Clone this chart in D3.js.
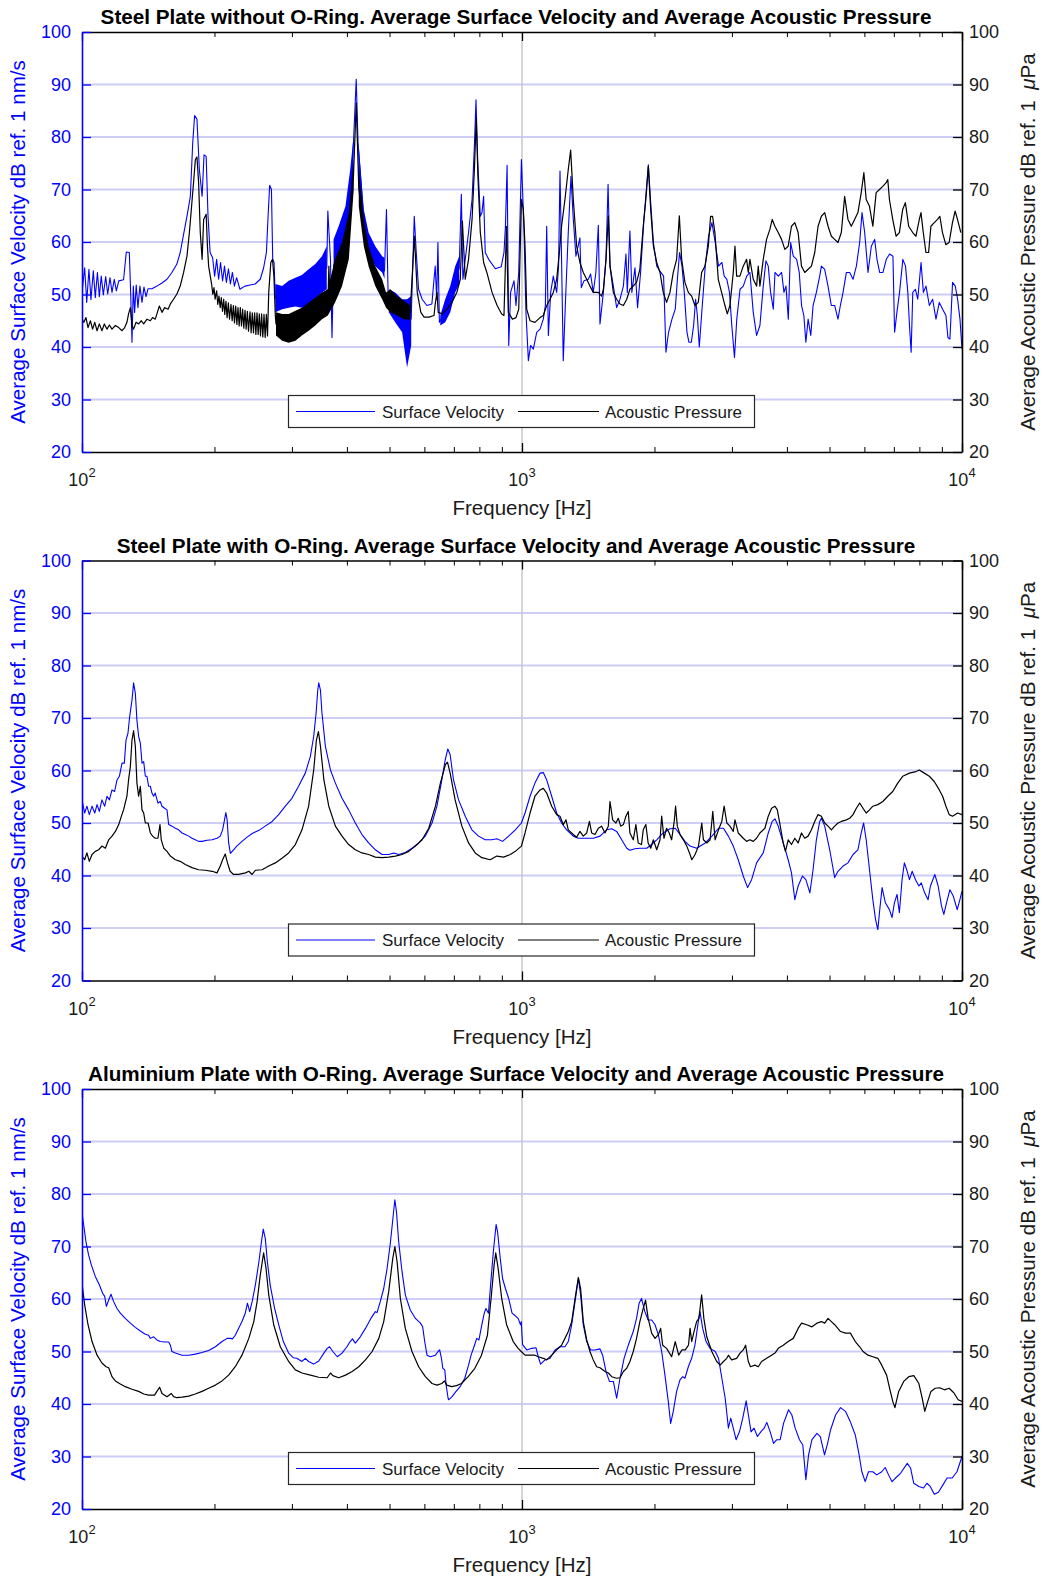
<!DOCTYPE html>
<html>
<head>
<meta charset="utf-8">
<script src="https://cdn.jsdelivr.net/npm/d3@7"></script>
<style>
body { margin: 0; background: #fff; }
svg { display: block; font-family: "Liberation Sans", Arial, Helvetica, sans-serif; }
</style>
</head>
<body>
<svg id="chart" width="1045" height="1579"></svg>
<script>
var titles = [
    "Steel Plate without O-Ring. Average Surface Velocity and Average Acoustic Pressure",
    "Steel Plate with O-Ring. Average Surface Velocity and Average Acoustic Pressure",
    "Aluminium Plate with O-Ring. Average Surface Velocity and Average Acoustic Pressure"
];
var dbTicks = [20, 30, 40, 50, 60, 70, 80, 90, 100];
var decadeTicks = [100, 1000, 10000];
var decadeExponents = ["2", "3", "4"];
var minorTicks = [200, 300, 400, 500, 600, 700, 800, 900, 2000, 3000, 4000, 5000, 6000, 7000, 8000, 9000];
var legendLabels = ["Surface Velocity", "Acoustic Pressure"];
var xLabel = "Frequency [Hz]";
var leftLabel = "Average Surface Velocity dB ref. 1 nm/s";

/* steel plate without o-ring: [Hz, dB] */
var p1Velocity = [
    [100,50.4],[101.4,55.1],[102.5,48.5],[103.7,54.8],[104.8,49.0],[106.1,54.5],[107.2,49.4],[108.4,54.2],[109.5,49.6],[110.6,53.5],
    [111.8,49.9],[113.2,53.4],[114.4,50.1],[115.8,53.2],[117,50.4],[118.4,52.9],[119.7,50.7],[121.2,52.6],[124.3,52.8],[126.1,58.1],
    [128.1,58.0],[129,50.4],[129.9,40.9],[130.8,51.6],[131.7,46.6],[132.8,51.8],[134,47.5],[135.4,51.6],[136.9,48.5],[138.3,51.4],
    [139.8,49.6],[141.3,51.1],[144.2,51.1],[148,51.6],[152,52.2],[156,52.9],[160.1,54.2],[164.3,55.8],[167.2,58.0],[170.2,61.5],
    [173.2,64.9],[176.3,68.7],[178.5,78.9],[180.3,84.1],[182.5,83.4],[184.8,73.8],[187.5,68.7],[189.4,76.6],[191.5,76.3],[193.4,64.9],
    [195.5,58.0],[198.1,57.0],[200.2,53.5],[202.3,56.7],[204.4,52.9],[206.5,56.1],[208.7,52.6],[210.8,55.4],[212.9,52.3],[215.2,54.9],
    [217.4,52.0],[219.7,54.2],[222,51.6],[224.6,53.2],[228.5,51.0],[234.6,51.6],[241,51.8],[247.5,52.0],[254.2,52.9],[258.7,55.1],
    [262.5,58.0],[264.8,64.9],[267,70.8],[269.5,70.0],[271.3,56.7],[273.2,56.1],
    [275,49.3],[285,49.4],[295,50.0],[305.5,50.4],[316,50.6],[327.5,51.3],[339,52.4],[351,53.8],[360,55.1],
    [362,65.9],[367,56.7],[370,41.8],[373,55.4],[383,58.9],[397,63.0],[407,69.0],
    [414,78.9],[420,91.0],[424,78.9],[437,64.0],[448,59.9],[464,57.3],[481,55.7],[487,54.5],[492,66.2],[496,51.0],
    [498,48.8],[515,47.5],[534,46.0],[548,43.0],[560,45.5],[569,64.9],[575,58.0],
    [582,51.0],[593,49.1],[608,47.9],[624,48.2],[631,52.9],[635,55.4],[640,49.1],[644,59.9],[649,44.7],
    [652,45.0],[669,46.9],[687,49.1],[705,52.9],[720,55.0],
    [728,69.1],[734,52.9],[743,56.7],[756,61.8],[770,68.1],[780,78.9],[786,87.1],[793,75.7],[804,64.9],[811,65.6],
    [818,68.7],[825,58.0],[840,56.7],[870,54.9],[897,55.3],[910,58.0],[917,63.0],[925,74.6],[933,40.3],[942,50.4],
    [959,52.6],[969,47.9],[983,54.2],[997,75.7],
    [1010,63.0],[1021,46.6],[1034,37.4],[1046,40.3],[1061,39.6],[1080,42.8],[1099,43.4],[1118,45.3],[1130,47.9],[1138,63.0],
    [1148,42.2],[1162,50.4],[1178,53.5],[1199,50.4],[1211,55.4],[1220,73.5],[1230,56.7],[1241,37.4],[1256,49.1],[1274,61.8],
    [1292,72.5],[1308,64.3],[1326,57.3],[1354,60.8],[1364,51.3],[1383,52.6],[1415,52.9],[1432,53.9],[1452,50.4],[1472,54.2],
    [1491,63.2],[1504,44.4],[1531,50.4],[1552,56.7],[1569,71.0],[1585,55.4],[1613,51.6],[1641,47.5],[1670,49.1],[1700,51.6],
    [1723,57.7],[1735,50.4],[1759,62.1],[1777,50.4],[1806,55.1],[1831,47.5],[1860,54.2],[1893,64.3],[1937,74.7],[1961,67.5],
    [1989,59.9],[2024,55.4],[2068,54.2],[2098,53.5],[2124,39.0],[2153,42.8],[2192,45.3],[2230,47.2],[2258,53.5],[2281,58.0],
    [2310,55.4],[2338,50.4],[2371,42.8],[2396,40.9],[2426,40.9],[2455,44.1],[2481,49.1],[2503,46.0],[2529,40.0],[2565,47.2],
    [2609,55.4],[2655,61.1],[2702,63.7],[2749,59.9],[2797,55.4],[2846,56.1],[2881,53.5],[2921,52.9],[2962,50.4],[2998,44.1],
    [3040,38.0],[3077,45.3],[3130,51.0],[3184,51.6],[3240,53.5],[3296,54.2],[3354,46.6],[3413,42.2],[3473,44.1],[3534,51.6],
    [3584,56.4],[3628,55.4],[3673,50.4],[3725,47.2],[3758,54.2],[3824,53.5],[3891,54.2],[3939,50.4],[3981,51.6],[4030,45.3],
    [4079,59.9],[4136,57.3],[4209,56.7],[4267,54.2],[4319,47.9],[4371,46.0],[4417,40.9],[4470,45.3],[4532,42.2],[4587,47.9],
    [4667,50.4],[4749,53.5],[4791,55.4],[4874,54.8],[4960,51.6],[5047,47.9],[5136,47.9],[5226,45.3],[5291,47.9],[5366,50.4],
    [5460,54.2],[5556,54.2],[5654,52.9],[5753,55.4],[5854,59.9],[5926,65.6],[6009,61.8],[6115,54.2],[6222,59.2],[6331,60.5],
    [6409,56.7],[6499,54.2],[6613,54.2],[6729,56.7],[6847,57.7],[6967,57.3],[7028,42.8],[7113,46.6],[7212,50.4],[7338,56.7],
    [7441,55.4],[7531,50.4],[7597,44.1],[7663,39.0],[7729,50.4],[7837,51.0],[7932,49.1],[8071,56.1],[8170,50.4],[8283,51.6],
    [8429,47.9],[8576,49.1],[8727,45.3],[8880,48.5],[9036,47.2],[9194,46.0],[9290,41.8],[9388,41.5],[9518,52.3],[9655,51.6],
    [9773,49.1],[9895,45.3],[10000,39.6]
];
/* ranges where the velocity trace oscillates too fast to resolve: [Hz, low dB, high dB] */
var p1VelocityBands = [
    [[275,46.6,52.0],[285,47.2,51.6],[295,47.5,52.6],[305.5,47.7,53.2],[316,47.5,53.7],[327.5,47.8,54.8],[339,49.1,55.8],[351,50.4,57.3],[360,51.0,59.2]],
    [[373,54.2,60.5],[383,54.8,63.0],[397,59.2,66.8],[407,64.3,73.8],[414,70.0,80.0]],
    [[425,70.6,78.9],[437,61.8,66.2],[448,58.0,61.8],[464,55.4,59.2],[481,54.2,57.3],[487,53.0,57.0]],
    [[498,46.6,51.0],[515,44.7,50.4],[534,42.8,49.1],[548,36.1,49.1],[560,40.3,49.7]],
    [[652,44.1,46.0],[669,44.7,49.1],[687,46.6,51.6],[705,50.4,55.4],[720,52.0,57.3]]
];
var p1Pressure = [
    [100,45.3],[101,44.7],[102.1,45.6],[103.2,43.7],[104.5,45.0],[105.7,43.4],[106.9,44.7],[108.2,43.1],[109.5,44.4],[111,43.1],
    [112.4,44.4],[114,43.4],[115.4,44.2],[117,43.4],[119.1,44.1],[121.2,43.7],[123.3,43.1],[125,43.7],[126.5,44.7],[127.6,46.3],
    [128.8,47.5],[129.9,44.1],[131,43.4],[132.7,44.7],[134.5,44.4],[136.4,45.0],[138.1,44.4],[140.5,45.3],[143,45.0],[144.7,45.6],
    [146.7,45.3],[148,46.3],[149.9,47.8],[152,46.6],[154.1,47.5],[156.9,47.2],[158.8,48.2],[161.5,49.1],[164.3,50.1],[167.2,51.6],
    [170.2,54.2],[173.2,57.3],[175.4,61.8],[177.2,66.2],[179.5,71.9],[181,75.7],[182.5,76.2],[184.1,71.3],[185.7,61.8],[187.5,56.7],
    [189,64.3],[191.5,65.3],[192.8,59.2],[194,55.4],
    [197.1,51.9],[198.3,50.0],[199.5,51.3],[200.7,49.1],[202.3,50.7],[203.5,48.1],[204.8,49.7],[206.1,47.5],[207.3,49.4],[208.6,46.8],
    [209.9,49.1],[211.1,46.2],[212.4,48.7],[213.7,45.6],[215.1,48.4],[216.4,45.3],[218.1,48.1],[219.4,45.0],[220.8,47.9],[222.1,44.6],
    [223.5,47.8],[224.9,44.3],[226.2,47.5],[227.6,44.0],[229,47.5],[230.4,44.0],[231.8,47.2],[233.2,43.6],[234.7,47.0],[236.1,43.4],
    [237.6,46.8],[239,43.0],[240.9,46.7],[242.3,42.7],[243.8,46.5],[245.3,42.7],[246.8,46.5],[248.4,42.4],[249.9,46.5],[251.4,42.4],
    [252.9,46.3],[254.5,42.1],[256,46.3],[257.6,41.9],[259.2,46.2],[260.8,41.8],[262.4,46.2],[264,42.1],
    [265.7,50.4],[268.6,56.1],[271,56.7],[273,53.5],[275,46.0],
    [276,44.4],[285,43.8],[295,43.6],[305.5,44.1],[316,44.9],[327.5,45.8],[339,46.8],[351,47.9],[362,48.5],[364,55.4],
    [366,49.5],[376,52.6],[390,55.8],[404,61.2],[414,72.6],[420,86.5],
    [425.6,70.3],[437,61.8],[448,57.3],[464,53.5],[481,51.0],[491,49.0],[502,48.8],[520,47.9],[539,47.1],[557,46.6],
    [569.5,61.1],[578,50.4],[589,46.6],[599,45.7],[615,45.7],[631,46.0],[635,48.2],[641,50.4],[645,46.6],[659,46.3],
    [675,47.2],[693,48.5],[711,50.4],[724,52.9],[732,64.0],[743,52.9],[756,56.7],[770,64.3],[780,74.4],[787,83.6],
    [794,72.5],[804,61.8],[818,56.1],[832,54.2],[855,50.4],[878,47.9],[899,46.3],[910,46.0],[922,63.0],[931,46.6],
    [951,45.3],[969,45.6],[983,47.2],[997,68.1],
    [1007,66.2],[1016,59.2],[1025,47.2],[1043,45.0],[1070,44.7],[1099,45.6],[1118,46.0],[1138,47.9],[1158,49.1],[1178,50.4],
    [1199,52.9],[1216,58.0],[1230,63.0],[1252,68.1],[1274,73.8],[1290,77.5],[1308,68.1],[1331,59.2],[1354,56.1],[1378,54.2],
    [1403,52.9],[1427,51.6],[1452,50.4],[1491,50.4],[1517,49.7],[1531,51.0],[1552,56.7],[1571,65.0],[1585,55.4],[1613,50.4],
    [1641,49.1],[1670,48.2],[1700,47.9],[1730,49.1],[1759,51.0],[1790,51.6],[1821,52.3],[1853,54.8],[1886,63.0],[1912,68.1],
    [1937,74.4],[1961,66.2],[1989,59.2],[2024,56.1],[2059,54.2],[2094,50.4],[2131,48.5],[2169,50.4],[2207,54.2],[2246,56.7],
    [2278,65.0],[2306,56.7],[2346,52.3],[2388,50.4],[2430,49.7],[2472,47.9],[2516,48.5],[2560,54.2],[2605,55.4],[2651,59.2],
    [2683,64.9],[2711,64.9],[2744,61.8],[2793,52.9],[2842,50.4],[2892,47.9],[2928,46.3],[2969,47.9],[3021,54.2],[3048,59.2],
    [3075,53.5],[3128,53.5],[3183,55.4],[3239,56.7],[3268,54.2],[3296,56.7],[3354,52.9],[3413,51.6],[3443,55.4],[3473,51.6],
    [3534,56.7],[3596,60.5],[3659,62.4],[3704,64.3],[3756,63.0],[3822,61.8],[3889,60.5],[3957,58.6],[4027,59.2],[4097,63.0],
    [4169,63.7],[4242,61.8],[4317,55.4],[4392,54.2],[4469,54.8],[4548,55.4],[4627,58.0],[4708,63.0],[4791,64.9],[4875,65.6],
    [4961,63.0],[5048,61.1],[5136,60.5],[5226,59.9],[5318,61.8],[5411,68.7],[5506,64.3],[5602,63.0],[5701,64.3],[5800,65.6],
    [5902,69.4],[5984,73.2],[6057,68.1],[6163,66.8],[6271,63.0],[6381,69.4],[6493,70.0],[6607,70.6],[6723,71.3],[6781,71.9],
    [6840,68.1],[6960,64.3],[7082,61.1],[7206,61.8],[7332,66.2],[7435,67.5],[7565,63.0],[7725,61.8],[7860,61.1],[7998,64.3],
    [8068,65.6],[8166,61.8],[8280,58.0],[8396,58.0],[8498,63.0],[8647,63.7],[8798,64.3],[8906,64.9],[9029,61.8],[9187,59.5],
    [9349,59.9],[9513,63.7],[9646,65.9],[9767,64.3],[9940,61.8]
];
var p1PressureBands = [
    [[276,42.2,46.6],[285,41.2,46.3],[295,40.8,46.3],[305.5,41.2,46.9],[316,42.2,47.5],[327.5,43.1,48.5],[339,44.1,49.4],[351,45.3,50.4],[362,46.0,51.0],[376,48.5,56.7],[390,51.6,59.9],[404,56.7,65.6],[414,69.4,75.7]],
    [[425.6,66.8,73.8],[437,59.2,64.3],[448,55.4,59.2],[464,51.6,55.4],[481,49.1,52.9],[491,47.5,50.4],[502,46.6,51.0],[520,46.0,49.7],[539,45.3,48.8],[557,45.2,47.9]]
];

/* steel plate with o-ring */
var p2Velocity = [
    [100,54.4],[101.4,51.9],[102.6,53.2],[103.9,51.6],[105.4,53.2],[106.9,51.9],[108.2,53.5],[109.5,52.2],[111,54.4],[112.6,53.2],
    [114,55.1],[115.4,54.4],[117,56.3],[118.6,56.0],[120.1,58.2],[121.6,58.9],[123.3,61.4],[124.8,61.4],[125.9,65.8],[127.2,67.1],
    [128.3,70.2],[129.9,73.4],[131,76.7],[132.2,74.7],[133.3,69.6],[134.5,66.5],[135.7,65.2],[136.9,61.4],[138.1,61.7],[139.3,58.9],
    [140.5,58.9],[141.7,57.0],[143,57.0],[144.2,55.7],[145.5,55.1],[146.7,55.7],[148.8,53.8],[150.6,54.1],[152,53.2],[154.1,52.8],
    [156,52.5],[157.4,49.7],[160.1,49.4],[163,49.0],[165.8,48.7],[168.8,48.1],[171.7,47.8],[174.8,47.5],[177.8,47.1],[180.9,46.8],
    [184.1,46.5],[187.4,46.5],[192.3,46.7],[197.6,46.8],[202.7,47.1],[206.2,47.5],[208.7,48.7],[210.5,50.3],[212.3,52.0],[213.7,50.6],
    [215.4,46.2],[217.4,44.2],[221,44.9],[224.8,45.6],[231,46.5],[237.3,47.3],[243.6,48.0],[252.4,48.6],[260.9,49.4],[270.5,50.3],
    [279.9,51.6],[289.8,53.2],[300,54.7],[310.6,57.0],[321.7,59.5],[330.4,62.7],[336.2,66.5],[340.4,70.9],[343.4,75.3],[345.2,76.7],
    [348.3,75.3],[351.1,70.9],[357.4,64.6],[367,60.1],[376.6,57.6],[389.9,54.7],[403.7,52.5],[418,50.0],[432.8,47.8],[448.2,46.2],
    [464.2,44.9],[480.7,44.0],[497.8,44.0],[511,44.3],[524.5,44.0],[543,44.4],[562.3,45.2],[582.3,46.2],[603,47.5],[624.5,50.0],
    [640.7,53.2],[657.4,58.2],[669,62.0],[678.3,64.1],[686.6,63.0],[698.8,58.2],[717.5,54.4],[743,51.3],[769.3,48.7],[796.6,47.5],
    [824.9,46.8],[854.1,46.8],[876.7,47.0],[903.3,46.5],[932.6,47.5],[965.6,48.7],[996.9,50.0],
    [1016,51.9],[1043,55.1],[1070,57.6],[1099,59.5],[1118,59.6],[1138,58.2],[1168,55.1],[1199,51.9],[1230,50.0],[1263,48.7],
    [1308,47.5],[1343,47.1],[1403,47.1],[1452,47.1],[1504,47.5],[1557,48.7],[1599,48.9],[1641,48.4],[1685,46.8],[1730,45.2],
    [1759,44.8],[1806,45.1],[1853,45.2],[1920,45.2],[1971,45.9],[2024,46.8],[2094,48.1],[2169,48.9],[2230,49.0],[2288,47.8],
    [2346,46.5],[2409,45.6],[2494,45.2],[2609,46.2],[2702,47.5],[2797,49.0],[2870,49.0],[2945,47.5],[3021,45.6],[3101,43.0],
    [3183,39.9],[3256,37.7],[3325,39.2],[3413,42.4],[3534,44.3],[3628,48.1],[3704,50.3],[3758,50.8],[3822,49.4],[3923,46.2],
    [4027,43.0],[4097,40.5],[4169,35.4],[4242,38.0],[4340,39.9],[4417,39.2],[4511,36.7],[4587,41.1],[4667,46.8],[4749,50.3],
    [4791,50.9],[4875,49.4],[5004,44.9],[5136,39.6],[5226,40.8],[5366,41.8],[5506,42.4],[5654,44.0],[5800,44.9],[5902,48.1],
    [5976,50.0],[6057,46.8],[6163,41.1],[6271,35.4],[6359,31.7],[6437,29.7],[6515,34.2],[6583,37.7],[6697,34.8],[6840,33.5],
    [6935,32.0],[7021,34.8],[7118,36.4],[7206,32.9],[7307,39.2],[7397,42.4],[7488,41.1],[7596,39.2],[7704,40.8],[7841,39.2],
    [7981,38.0],[8080,38.6],[8225,36.7],[8373,35.4],[8477,38.0],[8674,40.2],[8827,38.0],[8983,34.2],[9093,32.6],[9222,34.8],
    [9388,37.3],[9552,36.1],[9752,33.5],[9891,35.4],[10000,37.0]
];
var p2Pressure = [
    [100,43.7],[101.4,43.0],[102.6,44.3],[103.9,42.7],[105.4,44.0],[107.2,44.6],[109.1,44.9],[111,45.6],[113,45.2],[115,46.8],
    [117,47.5],[119.1,48.4],[121.2,49.7],[122.9,51.3],[124.3,52.5],[126.5,55.1],[127.6,58.2],[128.8,60.8],[129.9,65.8],[131,67.6],
    [132.2,64.6],[133.3,57.6],[134.5,55.1],[135.7,57.0],[136.9,52.5],[138.1,51.9],[139.3,50.0],[141.3,50.0],[143,48.1],[144.7,47.5],
    [146.7,47.1],[148.8,47.1],[150.4,49.7],[151.4,46.8],[153.4,45.2],[156,44.6],[158.8,43.7],[163,43.0],[167.2,42.7],[171.7,42.1],
    [177.8,41.5],[184.1,41.1],[190.6,41.0],[197.6,40.8],[202.7,40.5],[206.2,41.8],[208.7,43.0],[211.6,44.1],[214.1,42.4],[217.1,40.8],
    [221,40.2],[226.9,40.2],[235.2,40.5],[239.4,40.8],[243.6,40.2],[247.8,41.0],[256.6,41.1],[265.7,41.8],[275,42.4],[284.8,43.3],
    [294.9,44.3],[305.4,45.9],[316.2,48.7],[327.4,53.2],[336.2,60.1],[341,65.8],[344.6,67.4],[348.3,64.6],[354.6,58.2],[363.8,53.2],
    [376.6,49.4],[389.9,47.5],[403.7,45.9],[418,44.9],[432.8,44.3],[448.2,44.0],[464.2,43.5],[480.7,43.4],[497.8,43.5],[515.5,43.7],
    [533.8,44.0],[552.8,44.6],[572.5,45.6],[592.8,46.8],[613.9,49.0],[635.7,53.2],[652.4,57.6],[669.5,61.1],[677.1,61.6],[686.6,59.5],
    [704.7,54.4],[730,49.4],[756,46.2],[782.8,44.3],[810.5,43.4],[846.6,43.0],[876.7,43.7],[908.3,43.5],[940.8,44.0],[965.6,44.6],
    [996.9,45.6],
    [1016,48.1],[1043,51.9],[1070,55.1],[1099,56.3],[1118,56.6],[1138,55.7],[1168,53.2],[1199,51.6],[1220,51.3],[1241,49.7],
    [1259,50.6],[1274,48.7],[1308,47.8],[1331,47.3],[1354,48.4],[1378,47.5],[1403,48.1],[1423,50.3],[1440,48.1],[1465,47.8],
    [1491,49.0],[1517,49.4],[1544,48.1],[1571,49.4],[1585,54.1],[1607,50.6],[1635,50.0],[1655,50.9],[1676,49.4],[1700,49.7],
    [1723,51.3],[1744,52.2],[1759,48.1],[1790,46.8],[1815,49.7],[1837,46.2],[1869,45.9],[1886,48.7],[1912,49.7],[1935,46.2],
    [1961,45.2],[1989,46.8],[2024,44.9],[2059,46.8],[2077,51.3],[2102,47.1],[2131,49.0],[2161,48.1],[2188,46.8],[2218,50.3],
    [2234,53.2],[2254,49.4],[2286,47.8],[2327,46.8],[2369,45.6],[2402,44.3],[2432,43.0],[2474,44.0],[2518,45.6],[2562,50.0],
    [2584,46.8],[2630,46.2],[2676,46.8],[2714,52.2],[2747,46.8],[2796,48.7],[2845,50.3],[2880,53.2],[2921,50.0],[2969,49.4],
    [3021,48.4],[3048,50.6],[3101,48.1],[3183,47.1],[3239,46.5],[3296,46.8],[3354,46.5],[3413,47.1],[3473,48.1],[3565,49.0],
    [3628,51.3],[3692,52.8],[3758,53.2],[3804,52.5],[3858,49.7],[3923,46.2],[3970,44.6],[4027,46.8],[4097,45.9],[4169,47.1],
    [4242,46.2],[4317,48.1],[4392,47.1],[4469,47.5],[4548,48.7],[4627,50.3],[4708,51.6],[4791,51.3],[4875,50.0],[4961,49.4],
    [5048,48.7],[5136,49.4],[5226,50.0],[5318,50.3],[5460,50.6],[5556,50.9],[5654,51.6],[5753,52.8],[5854,53.8],[5957,52.8],
    [6057,51.9],[6163,52.5],[6271,53.2],[6437,53.5],[6607,54.1],[6781,55.1],[6960,56.0],[7144,57.6],[7332,58.9],[7597,59.5],
    [7860,59.8],[7998,60.1],[8210,59.5],[8429,58.9],[8647,57.9],[8880,56.3],[9036,55.1],[9194,53.2],[9354,51.6],[9518,51.3],
    [9773,51.9],[10000,51.6]
];

/* aluminium plate with o-ring */
var p3Velocity = [
    [100,76.3],[100.9,74.1],[102.1,70.9],[103.5,68.4],[105,66.5],[107.2,64.3],[109.5,62.7],[111.4,61.1],[112.6,60.5],[113.6,58.6],
    [115,59.8],[116.4,60.9],[118,59.5],[120.1,58.2],[122.2,57.3],[125.4,56.3],[128.8,55.4],[132.2,54.6],[135.7,53.9],[139.3,53.3],
    [141.7,53.1],[143,52.5],[145.5,52.8],[148,52.2],[150.6,51.9],[154.1,51.8],[157.4,51.8],[158.8,51.2],[160.1,50.0],[163,49.7],
    [168.8,49.3],[174.8,49.3],[180.9,49.5],[187.4,49.8],[194,50.2],[201,50.9],[208.1,51.9],[213.7,52.5],[217.4,52.5],[219.7,52.4],
    [223,53.1],[226.9,54.4],[231,55.7],[235,57.3],[237.7,59.2],[240.5,57.6],[243.6,59.5],[247.8,62.7],[252.4,67.1],[255.8,70.9],
    [258.2,73.3],[261,71.5],[263.8,67.1],[267.7,62.7],[274,58.2],[279.9,55.1],[286.8,51.9],[294.9,49.7],[302.3,48.8],[307.6,48.7],
    [316.2,48.1],[321.7,48.7],[327.4,48.1],[336.2,47.6],[345.2,48.2],[354.6,49.7],[360.8,50.6],[365.3,50.9],[371.6,50.0],[380.4,49.0],
    [389.9,49.7],[400,50.9],[406.9,51.9],[411.8,52.4],[418,51.6],[429,52.8],[440.8,54.4],[453.4,56.3],[464.2,57.6],[468.2,57.4],
    [476.3,59.5],[485,62.0],[493.6,65.8],[502.5,70.9],[509.8,76.0],[514.1,78.9],[518.5,76.6],[524.5,70.9],[533.8,65.2],[543,60.8],
    [557.3,57.9],[572.5,56.3],[587.6,55.4],[594.6,54.7],[601,51.9],[608.3,49.3],[618.9,49.0],[635.7,49.3],[644.6,50.0],[650,50.3],
    [656,48.7],[660.7,46.8],[667.6,46.5],[672.4,43.6],[679.3,41.1],[681.3,40.8],[693.6,41.4],[705.3,42.2],[723.3,43.3],[741.2,44.9],
    [756,47.4],[766,49.3],[779.9,51.2],[789,52.5],[798.3,52.2],[810.5,55.1],[820.9,57.3],[828,58.2],[839,57.3],[848.5,62.7],
    [860.7,69.0],[873.3,74.2],[880,72.8],[892.5,67.7],[903.3,63.9],[917,62.0],[932.6,60.1],[949.3,57.3],[965.6,56.8],[979.9,56.3],
    [992,55.1],[996,55.7],
    [1003,51.3],[1025,50.3],[1052,50.6],[1076,50.7],[1089,49.0],[1102,47.6],[1128,48.4],[1158,48.7],[1189,50.3],[1220,50.9],
    [1252,50.9],[1274,51.9],[1297,55.1],[1320,59.5],[1343,63.9],[1359,60.8],[1378,55.1],[1403,51.9],[1432,50.3],[1465,50.3],
    [1504,50.5],[1525,49.3],[1552,46.2],[1580,44.3],[1613,44.3],[1641,41.1],[1670,44.9],[1706,48.7],[1744,51.2],[1790,53.8],
    [1821,56.3],[1846,59.2],[1869,60.1],[1902,57.6],[1935,56.0],[1971,56.0],[2006,55.1],[2041,53.2],[2077,50.0],[2113,45.5],
    [2150,40.5],[2177,36.3],[2207,38.6],[2246,42.4],[2286,44.6],[2318,45.2],[2346,44.9],[2388,47.1],[2430,48.7],[2472,51.2],
    [2516,55.7],[2538,57.6],[2574,54.4],[2620,51.9],[2676,50.6],[2749,50.0],[2797,48.7],[2846,44.9],[2896,41.1],[2945,35.4],
    [2981,37.3],[3021,35.4],[3066,33.2],[3120,34.7],[3175,37.3],[3232,40.6],[3270,37.9],[3316,34.7],[3368,35.4],[3428,33.8],
    [3489,34.7],[3550,35.4],[3601,36.5],[3665,34.7],[3730,32.5],[3795,33.2],[3862,33.2],[3930,36.3],[4035,38.9],[4106,37.9],
    [4177,35.4],[4272,33.2],[4347,32.2],[4417,25.6],[4480,30.3],[4560,33.2],[4680,34.4],[4764,33.8],[4870,30.3],[4940,32.2],
    [5028,35.1],[5160,37.9],[5296,39.3],[5434,38.6],[5576,36.6],[5721,34.1],[5820,30.9],[5921,27.1],[6025,25.2],[6130,27.1],
    [6270,27.1],[6400,26.5],[6570,27.1],[6690,27.9],[6810,26.5],[6935,25.2],[7060,25.9],[7250,26.8],[7510,28.7],[7640,27.8],
    [7770,24.9],[7980,24.3],[8180,24.0],[8320,24.9],[8470,24.3],[8650,22.8],[8840,23.2],[9050,24.6],[9250,25.9],[9500,25.9],
    [9740,27.1],[10000,30.0]
];
var p3Pressure = [
    [100,63.0],[101.4,58.9],[103.2,55.1],[105.4,51.9],[108.2,49.3],[111,47.8],[113.4,47.1],[115,46.9],[117,45.2],[119.1,44.4],
    [122.2,43.8],[125.4,43.3],[129.9,42.8],[134.5,42.4],[138.1,41.9],[141.7,41.7],[146.2,41.7],[148,42.4],[150.1,43.2],[152,42.0],
    [156,41.4],[159.6,42.0],[161.5,41.4],[164.3,41.2],[168.8,41.3],[174.8,41.5],[180.9,41.9],[187.4,42.4],[194,43.0],[201,43.6],
    [208.1,44.4],[215.4,45.5],[223,47.1],[231,49.3],[239.4,52.5],[245.7,55.7],[250,59.5],[254.2,64.6],[258.7,68.8],[261.9,65.9],
    [265.7,60.8],[272.7,55.1],[282.3,50.9],[294.9,48.1],[305.4,46.5],[316.2,45.9],[330.4,45.5],[345.2,45.1],[360.8,45.0],[367,45.9],
    [371.6,45.4],[383.3,45.0],[397.1,45.5],[411.1,46.2],[425.6,47.1],[440.8,48.4],[456.4,50.0],[472.7,52.5],[485,55.7],[497.8,61.4],
    [508.4,67.7],[514.1,70.0],[520.2,67.1],[529.1,60.1],[543,54.4],[562.3,50.0],[582.3,47.1],[603,45.2],[624.5,43.9],[640.7,43.6],
    [657.4,43.9],[666.5,44.4],[674.6,43.6],[692.1,43.3],[710,43.5],[728.5,43.9],[754.4,45.2],[781.3,46.8],[809,49.3],[834.5,53.1],
    [852.2,60.8],[864.2,66.5],[871.6,68.8],[882.4,65.9],[899.2,60.1],[922.5,55.1],[955,51.9],[980,50.6],[996,50.0],
    [1016,49.3],[1043,49.3],[1070,49.3],[1089,49.0],[1118,48.7],[1138,48.4],[1168,49.3],[1199,50.3],[1230,51.2],[1252,52.5],
    [1274,53.8],[1297,55.7],[1320,60.1],[1343,64.1],[1359,62.0],[1378,55.7],[1403,52.2],[1427,50.0],[1452,48.4],[1478,47.1],
    [1504,46.9],[1544,46.2],[1571,45.9],[1599,45.2],[1641,44.9],[1670,45.0],[1700,46.2],[1730,46.8],[1759,48.1],[1790,50.0],
    [1821,52.5],[1853,55.7],[1886,58.2],[1909,59.8],[1935,56.3],[1971,53.5],[2006,52.5],[2041,53.2],[2066,54.4],[2088,51.2],
    [2131,50.6],[2188,49.0],[2230,51.9],[2270,49.3],[2310,50.3],[2350,50.3],[2390,51.2],[2410,54.4],[2430,51.9],[2460,53.8],
    [2494,55.7],[2524,56.3],[2560,60.8],[2590,56.3],[2630,52.8],[2700,50.0],[2770,48.1],[2820,47.4],[2870,48.1],[2920,48.7],
    [2945,49.3],[2995,48.4],[3075,48.7],[3130,49.7],[3183,50.3],[3222,51.2],[3268,48.1],[3306,47.1],[3384,47.4],[3443,47.1],
    [3504,48.1],[3596,48.7],[3692,49.3],[3758,49.7],[3824,50.6],[3923,51.2],[4027,51.9],[4136,52.5],[4242,54.4],[4319,55.4],
    [4436,55.1],[4560,54.7],[4680,55.4],[4791,55.7],[4875,55.4],[4961,56.3],[5048,55.7],[5136,55.1],[5296,53.8],[5434,53.5],
    [5576,53.5],[5721,51.9],[5854,50.9],[5957,50.0],[6115,49.3],[6271,49.0],[6437,48.7],[6570,47.4],[6740,45.5],[6860,42.7],
    [6960,40.5],[7040,39.3],[7180,42.4],[7370,44.3],[7570,45.2],[7770,45.4],[7980,43.9],[8120,41.1],[8230,38.6],[8360,40.5],
    [8500,42.4],[8690,43.0],[8900,43.1],[9120,42.7],[9350,43.0],[9590,42.1],[9800,40.8],[10000,40.5]
];

var BLUE = "#0000ff";
var svg = d3.select("#chart");
var plotLeft = 82, plotRight = 962, plotH = 420;
var panelTops = [32, 560.5, 1089];

var x = d3.scaleLog().domain([100, 10000]).range([plotLeft, plotRight]);

var panels = [
    {vel: p1Velocity, pres: p1Pressure, velBands: p1VelocityBands, presBands: p1PressureBands},
    {vel: p2Velocity, pres: p2Pressure, velBands: [], presBands: []},
    {vel: p3Velocity, pres: p3Pressure, velBands: [], presBands: []}
];

panels.forEach(function(p, i) {
    var top = panelTops[i];
    var bottom = top + plotH;
    var y = d3.scaleLinear().domain([20, 100]).range([bottom, top]);
    var g = svg.append("g");

    g.append("clipPath").attr("id", "clip" + i)
        .append("rect").attr("x", plotLeft).attr("y", top)
        .attr("width", plotRight - plotLeft).attr("height", plotH);

    // horizontal grid
    g.append("g").selectAll("line")
        .data(dbTicks.slice(1, -1))
        .enter().append("line")
        .attr("x1", plotLeft).attr("x2", plotRight)
        .attr("y1", function(d) { return y(d); })
        .attr("y2", function(d) { return y(d); })
        .attr("stroke", "#cdcdf6")
        .attr("stroke-width", 1.8);

    // 1 kHz marker
    g.append("line")
        .attr("x1", x(1000)).attr("x2", x(1000))
        .attr("y1", top).attr("y2", bottom)
        .attr("stroke", "#c8c8c8")
        .attr("stroke-width", 1.5);

    var line = d3.line()
        .x(function(d) { return x(d[0]); })
        .y(function(d) { return y(d[1]); });
    var area = d3.area()
        .x(function(d) { return x(d[0]); })
        .y0(function(d) { return y(d[1]); })
        .y1(function(d) { return y(d[2]); });

    var data = g.append("g").attr("clip-path", "url(#clip" + i + ")");

    data.selectAll("path.vband").data(p.velBands).enter().append("path")
        .attr("class", "vband").attr("d", area).attr("fill", BLUE);
    data.append("path").datum(p.vel)
        .attr("d", line).attr("fill", "none")
        .attr("stroke", BLUE).attr("stroke-width", 1.1)
        .attr("stroke-linejoin", "round");

    data.selectAll("path.pband").data(p.presBands).enter().append("path")
        .attr("class", "pband").attr("d", area).attr("fill", "#000");
    data.append("path").datum(p.pres)
        .attr("d", line).attr("fill", "none")
        .attr("stroke", "#000").attr("stroke-width", 1.2)
        .attr("stroke-linejoin", "round");

    // x axes, bottom and top, ticks pointing inward
    function styleAxis(sel, colour) {
        sel.attr("color", colour);
        sel.select(".domain").attr("stroke-width", 1.6);
        sel.selectAll(".tick line").attr("stroke-width", 1.3);
    }
    g.append("g").attr("transform", "translate(0," + bottom + ")")
        .call(d3.axisBottom(x).tickValues(minorTicks).tickSize(-5).tickFormat(""))
        .call(function(s) { s.select(".domain").remove(); s.attr("color", "#000"); });
    g.append("g").attr("transform", "translate(0," + top + ")")
        .call(d3.axisTop(x).tickValues(minorTicks).tickSize(-5).tickFormat(""))
        .call(function(s) { s.select(".domain").remove(); s.attr("color", "#000"); });
    var xb = g.append("g").attr("transform", "translate(0," + bottom + ")")
        .call(d3.axisBottom(x).tickValues(decadeTicks).tickSizeInner(-9).tickSizeOuter(0).tickFormat(""));
    styleAxis(xb, "#000");
    var xt = g.append("g").attr("transform", "translate(0," + top + ")")
        .call(d3.axisTop(x).tickValues(decadeTicks).tickSizeInner(-9).tickSizeOuter(0).tickFormat(""));
    styleAxis(xt, "#000");

    // decade labels 10^n
    var lab = g.append("g").selectAll("text")
        .data(decadeTicks).enter().append("text")
        .attr("x", function(d) { return x(d); })
        .attr("y", bottom + 34)
        .attr("text-anchor", "middle")
        .attr("font-size", 18)
        .attr("fill", "#1a1a1a");
    lab.append("tspan").text("10");
    lab.append("tspan").attr("font-size", 13).attr("dy", -9)
        .text(function(d, j) { return decadeExponents[j]; });

    // right axis (black)
    var yr = g.append("g").attr("transform", "translate(" + plotRight + ",0)")
        .call(d3.axisRight(y).tickValues(dbTicks).tickSizeInner(-9).tickSizeOuter(0).tickPadding(7));
    styleAxis(yr, "#000");
    yr.selectAll("text").attr("font-size", 18).attr("fill", "#1a1a1a")
        .attr("font-family", "Liberation Sans, Arial, sans-serif");

    // left axis (blue)
    var yl = g.append("g").attr("transform", "translate(" + plotLeft + ",0)")
        .call(d3.axisLeft(y).tickValues(dbTicks).tickSizeInner(-9).tickSizeOuter(0).tickPadding(11));
    styleAxis(yl, BLUE);
    yl.selectAll("text").attr("font-size", 18).attr("fill", BLUE)
        .attr("font-family", "Liberation Sans, Arial, sans-serif");

    // title and axis labels
    g.append("text")
        .attr("x", 516).attr("y", top - 8)
        .attr("text-anchor", "middle")
        .attr("font-size", 20.7).attr("font-weight", "bold")
        .attr("fill", "#000")
        .text(titles[i]);

    g.append("text")
        .attr("x", (plotLeft + plotRight) / 2).attr("y", bottom + 63)
        .attr("text-anchor", "middle")
        .attr("font-size", 20.5).attr("fill", "#1a1a1a")
        .text(xLabel);

    g.append("text")
        .attr("transform", "translate(25," + (top + plotH / 2) + ") rotate(-90)")
        .attr("text-anchor", "middle")
        .attr("font-size", 20.6).attr("fill", BLUE)
        .text(leftLabel);

    var rl = g.append("text")
        .attr("transform", "translate(1035," + (top + plotH / 2) + ") rotate(-90)")
        .attr("text-anchor", "middle")
        .attr("font-size", 20.6).attr("fill", "#1a1a1a");
    rl.append("tspan").text("Average Acoustic Pressure dB ref. 1 ");
    rl.append("tspan").attr("dx", 5).attr("font-style", "italic").text("\u03bc");
    rl.append("tspan").text("Pa");

    // legend
    var ly = top + 363;
    var lg = g.append("g");
    lg.append("rect")
        .attr("x", 288.5).attr("y", ly + 0.5)
        .attr("width", 466).attr("height", 32)
        .attr("fill", "#fff").attr("stroke", "#262626").attr("stroke-width", 1.2);
    var entries = [
        {label: legendLabels[0], colour: BLUE, x0: 296, x1: 375, tx: 382},
        {label: legendLabels[1], colour: "#000", x0: 518, x1: 599, tx: 605}
    ];
    entries.forEach(function(e) {
        lg.append("line")
            .attr("x1", e.x0).attr("x2", e.x1)
            .attr("y1", ly + 16.5).attr("y2", ly + 16.5)
            .attr("stroke", e.colour).attr("stroke-width", 1.2);
        lg.append("text")
            .attr("x", e.tx).attr("y", ly + 22.5)
            .attr("font-size", 17).attr("fill", "#1a1a1a")
            .text(e.label);
    });
});
</script>
</body>
</html>
